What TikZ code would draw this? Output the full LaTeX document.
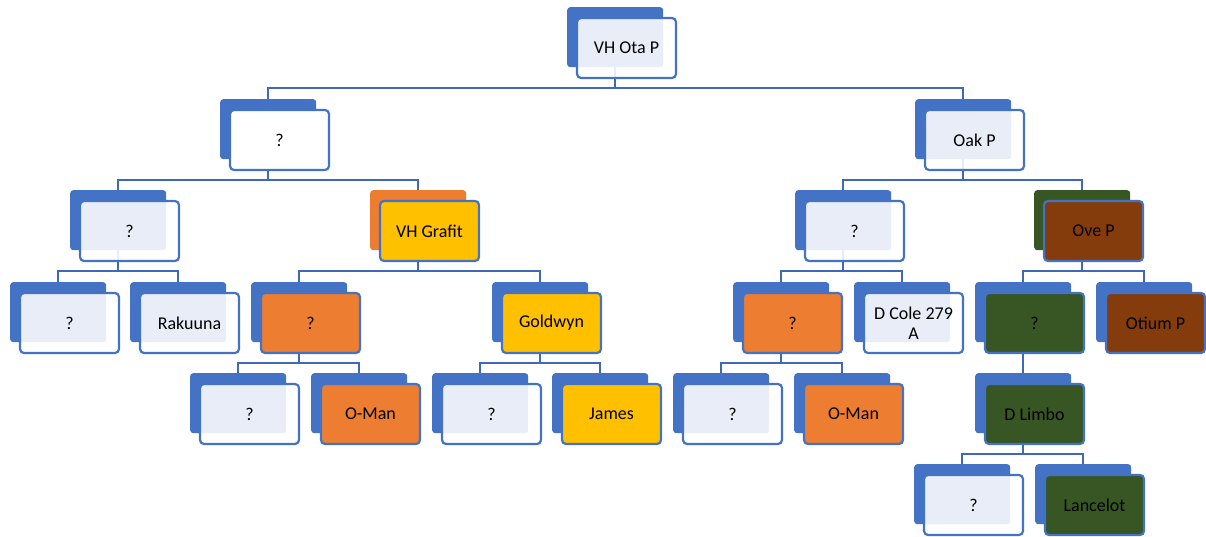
\documentclass[tikz,border=0pt]{standalone}
\usepackage{fontspec}
\setmainfont{Carlito}
\usetikzlibrary{calc}
\definecolor{cblue}{HTML}{4472C4}
\definecolor{cline}{HTML}{3F68B6}
\definecolor{corange}{HTML}{ED7D31}
\definecolor{cyellow}{HTML}{FFC000}
\definecolor{cgreen}{HTML}{375623}
\definecolor{cbrown}{HTML}{843C0C}
\pgfdeclarelayer{bg}
\pgfsetlayers{bg,main}
\tikzset{
  backrect/.style={rectangle, rounded corners=3pt, inner sep=0pt, draw=none,
    minimum width=96pt, minimum height=60pt, anchor=north west},
  frontrect/.style={rectangle, rounded corners=4pt, draw=cblue, line width=2.2pt,
    inner sep=0pt, minimum width=99pt, minimum height=60pt, align=center,
    font=\fontsize{18}{20}\selectfont, text=black},
  glass/.style={frontrect, fill=white, fill opacity=0.88, text opacity=1},
  solidwhite/.style={frontrect, fill=white},
  orangefront/.style={frontrect, fill=corange},
  yellowfront/.style={frontrect, fill=cyellow},
  greenfront/.style={frontrect, fill=cgreen},
  brownfront/.style={frontrect, fill=cbrown},
  conn/.style={draw=cline, line width=2.4pt},
}
% #1 name, #2 x, #3 y of the back card (top left), #4 back colour, #5 front style, #6 text
\newcommand\pedcard[6]{%
  \node[backrect, fill=#4] (#1-bk) at (#2,#3) {};
  \node[#5] (#1) at ($(#1-bk.north west)+(59.5,41)$) {#6};
}
% #1 parent, #2 child
\newcommand\pedlink[2]{%
  \begin{pgfonlayer}{bg}
    \draw[conn] (#1-bk.south) -- ++(0,20.5) -| (#2-bk.north);
  \end{pgfonlayer}
}
\begin{document}
\begin{tikzpicture}[x=1pt,y=-1pt]
\useasboundingbox (0,0) rectangle (1206,537);

\pedcard{root}{567}{7}{cblue}{glass}{VH Ota P}
\pedcard{a}{220}{99}{cblue}{solidwhite}{?}
\pedcard{b}{915}{99}{cblue}{glass}{Oak P}

\pedcard{aa}{70}{190}{cblue}{glass}{?}
\pedcard{ab}{370}{190}{corange}{yellowfront}{VH Grafit}
\pedcard{ba}{795}{190}{cblue}{glass}{?}
\pedcard{bb}{1034}{190}{cgreen}{brownfront}{Ove P}

\pedcard{aaa}{10}{282}{cblue}{glass}{?}
\pedcard{aab}{130}{282}{cblue}{glass}{Rakuuna}
\pedcard{aba}{251}{282}{cblue}{orangefront}{?}
\pedcard{abb}{492}{282}{cblue}{yellowfront}{Goldwyn}
\pedcard{baa}{733}{282}{cblue}{orangefront}{?}
\pedcard{bab}{854}{282}{cblue}{glass}{D Cole 279\\A}
\pedcard{bba}{975}{282}{cblue}{greenfront}{?}
\pedcard{bbb}{1096}{282}{cblue}{brownfront}{Otium P}

\pedcard{abaa}{190}{373}{cblue}{glass}{?}
\pedcard{abab}{311}{373}{cblue}{orangefront}{O-Man}
\pedcard{abba}{432}{373}{cblue}{glass}{?}
\pedcard{abbb}{552}{373}{cblue}{yellowfront}{James}
\pedcard{baaa}{673}{373}{cblue}{glass}{?}
\pedcard{baab}{794}{373}{cblue}{orangefront}{O-Man}
\pedcard{bbaa}{975}{373}{cblue}{greenfront}{D Limbo}

\pedcard{bbaaa}{914}{464}{cblue}{glass}{?}
\pedcard{bbaab}{1035}{464}{cblue}{greenfront}{Lancelot}

\pedlink{root}{a}\pedlink{root}{b}
\pedlink{a}{aa}\pedlink{a}{ab}
\pedlink{b}{ba}\pedlink{b}{bb}
\pedlink{aa}{aaa}\pedlink{aa}{aab}
\pedlink{ab}{aba}\pedlink{ab}{abb}
\pedlink{ba}{baa}\pedlink{ba}{bab}
\pedlink{bb}{bba}\pedlink{bb}{bbb}
\pedlink{aba}{abaa}\pedlink{aba}{abab}
\pedlink{abb}{abba}\pedlink{abb}{abbb}
\pedlink{baa}{baaa}\pedlink{baa}{baab}
\pedlink{bba}{bbaa}
\pedlink{bbaa}{bbaaa}\pedlink{bbaa}{bbaab}
\end{tikzpicture}
\end{document}
